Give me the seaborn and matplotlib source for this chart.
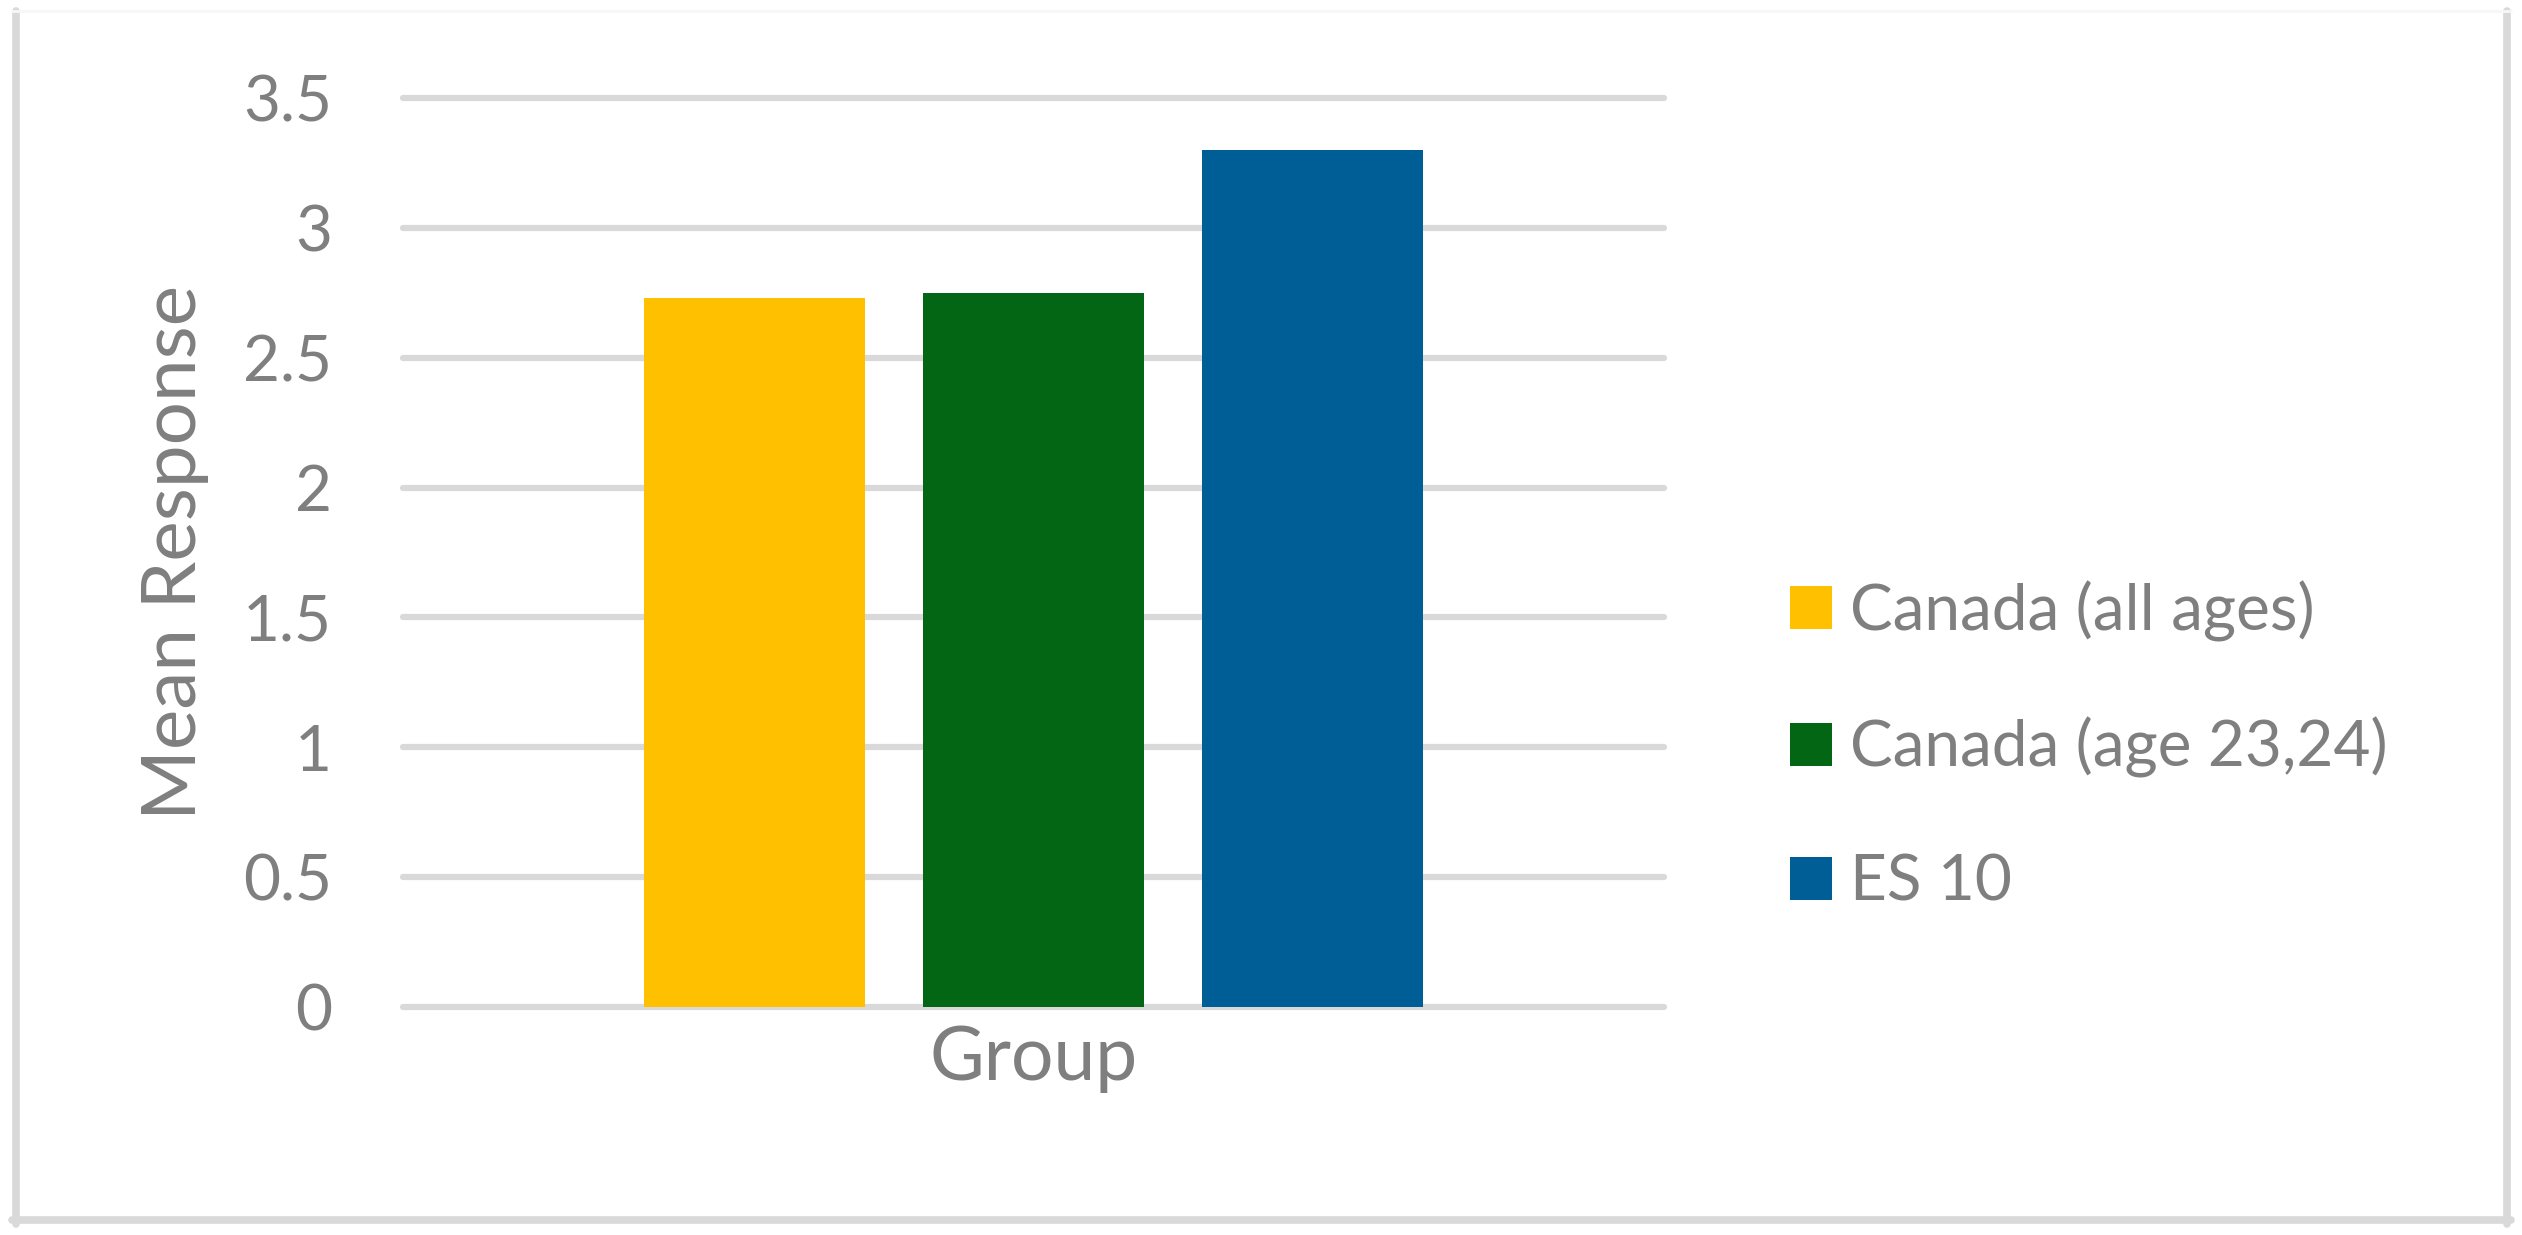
import matplotlib
matplotlib.use('Agg')
import matplotlib.pyplot as plt
from matplotlib.lines import Line2D
import pandas as pd
import seaborn as sns

# Data
groups = ['Group', 'Group', 'Group']
series = ['Canada (all ages)', 'Canada (age 23,24)', 'ES 10']
values = [2.73, 2.75, 3.30]
colors = ['#FFC000', '#026615', '#005E96']
yticks = [0, 0.5, 1, 1.5, 2, 2.5, 3, 3.5]

sns.set_theme(style='white')
plt.rcParams['font.family'] = ['Lato', 'DejaVu Sans']
text_gray = '#7F7F7F'
grid_gray = '#D9D9D9'

df = pd.DataFrame({'group': groups, 'series': series, 'value': values})

fig = plt.figure(figsize=(25.22, 12.35), dpi=100)
ax = fig.add_axes([403 / 2522, 1 - 1007 / 1235, 1261 / 2522, 909 / 1235])

sns.barplot(data=df, x='group', y='value', hue='series', hue_order=series,
            palette=colors, saturation=1, width=0.8, gap=0.21,
            edgecolor='none', ax=ax)

# Axes styling
ax.set_ylim(0, 3.5)
ax.set_xlim(-0.6028, 0.6028)
ax.set_yticks(yticks)
ax.set_yticklabels(['{:g}'.format(v) for v in yticks])
ax.set_axisbelow(True)
ax.grid(axis='y', color=grid_gray, linewidth=4.5)
for gl in ax.get_ygridlines():
    gl.set_clip_on(False)
for s in ax.spines.values():
    s.set_visible(False)
ax.tick_params(axis='y', length=0, pad=51, labelsize=46, labelcolor=text_gray)
ax.tick_params(axis='x', length=0, pad=12, labelsize=54, labelcolor=text_gray)

ax.set_xlabel('')
ax.set_ylabel('Mean Response', fontsize=55, color=text_gray)
ax.yaxis.set_label_coords(-0.1816, 0.5)
ax.yaxis.label.set_va('center')

# Legend
handles, labels = ax.get_legend_handles_labels()
ax.legend(handles, labels, loc='center left',
          bbox_to_anchor=(1790 / 2522, 1 - 746 / 1235), bbox_transform=fig.transFigure,
          frameon=False, fontsize=46, labelcolor=text_gray,
          handlelength=0.66, handleheight=0.66, handletextpad=0.28,
          labelspacing=1.18, borderpad=0, borderaxespad=0)

# Outer chart border
W, H = 2522, 1235
bw = 5.5
fig.add_artist(Line2D([16 / W, 16 / W], [1 - 11 / H, 1 - 1224 / H], color=grid_gray, lw=bw, transform=fig.transFigure))
fig.add_artist(Line2D([2507 / W, 2507 / W], [1 - 11 / H, 1 - 1224 / H], color=grid_gray, lw=bw, transform=fig.transFigure))
fig.add_artist(Line2D([12 / W, 2511 / W], [1 - 1220 / H, 1 - 1220 / H], color=grid_gray, lw=bw, transform=fig.transFigure))
fig.add_artist(Line2D([12 / W, 2511 / W], [1 - 11 / H, 1 - 11 / H], color='#F7F7F7', lw=2, transform=fig.transFigure))

fig.savefig('out.png', dpi=100)
